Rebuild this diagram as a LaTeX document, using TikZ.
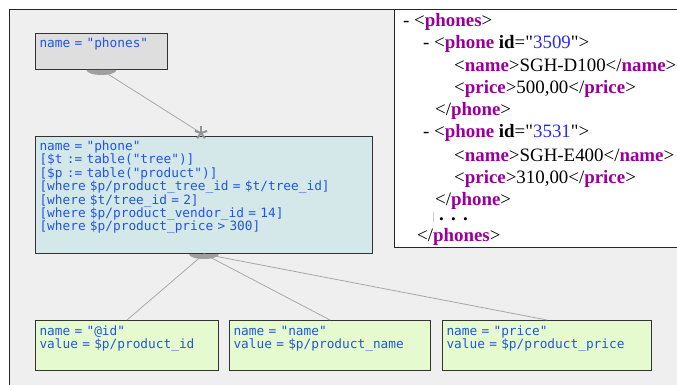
\documentclass[tikz,border=0pt]{standalone}
\usepackage{fontspec}
\setmainfont{Liberation Serif}[Ligatures=TeXOff]
\newfontfamily\boxfont{DejaVu Sans Mono}[Ligatures=TeXOff]
\definecolor{framebg}{HTML}{EFEFEF}
\definecolor{rootfill}{HTML}{DEDEDE}
\definecolor{phonefill}{HTML}{D4E8EA}
\definecolor{leaffill}{HTML}{E6FAD0}
\definecolor{codeblue}{HTML}{2255DD}
\definecolor{xmltag}{HTML}{990099}
\definecolor{xmlval}{HTML}{2B2BF0}
\definecolor{edgegray}{HTML}{A8A8A8}
\newcommand{\xtag}[1]{\textcolor{xmltag}{\textbf{#1}}}
\newcommand{\xval}[1]{\textcolor{xmlval}{#1}}
\newcommand{\codefont}{\boxfont\fontsize{12.8}{13.4}\selectfont}
\begin{document}
\begin{tikzpicture}[x=1pt,y=-1pt,
    box/.style={draw=black!80,line width=1pt,anchor=north west,inner xsep=4pt,
      inner ysep=0pt,align=left,text=codeblue,font=\codefont},
    edge/.style={draw=edgegray,line width=0.8pt},
    port/.style={fill=gray!75},
    xml/.style={anchor=base west,inner sep=0pt,font=\fontsize{18.9}{22}\selectfont}]
  \useasboundingbox (0,0) rectangle (677,385);
  \clip (0,0) rectangle (677,385);
  \draw[fill=framebg,draw=black!85] (9,9) rectangle (700,400);
  \draw[fill=white,draw=black!85] (394,9) rectangle (700,247);
  % mapping tree
  \node[box,fill=rootfill,text width=124pt,text height=14pt,text depth=22pt]
    (phones) at (35,33) {name = "phones"};
  \node[box,fill=phonefill,text width=329pt,text height=14pt,text depth=103pt]
    (phone) at (35,136) {name = "phone"\\
      {[}\$t := table("tree")]\\
      {[}\$p := table("product")]\\
      {[}where \$p/product\_tree\_id = \$t/tree\_id]\\
      {[}where \$t/tree\_id = 2]\\
      {[}where \$p/product\_vendor\_id = 14]\\
      {[}where \$p/product\_price > 300]};
  \node[box,fill=leaffill,text width=175pt,text height=15pt,text depth=35pt]
    (idleaf) at (35,320) {name = "@id"\\value = \$p/product\_id};
  \node[box,fill=leaffill,text width=193pt,text height=15pt,text depth=35pt]
    (nameleaf) at (229,320) {name = "name"\\value = \$p/product\_name};
  \node[box,fill=leaffill,text width=201pt,text height=15pt,text depth=35pt]
    (priceleaf) at (442,320) {name = "price"\\value = \$p/product\_price};
  \coordinate (phstar) at (201,133);
  \draw[edge] (phones.south) -- (phstar);
  \foreach \leaf in {idleaf,nameleaf,priceleaf}
    \draw[edge] (phone.south) -- (\leaf.north);
  \foreach \n in {phones,phone}
    \fill[port] (\n.south) ++(-15pt,0) arc[start angle=180,end angle=360,
      x radius=15pt,y radius=5pt] -- cycle;
  \foreach \a in {18,90,162,234,306}
    \draw[gray!85,line width=2pt] (phstar) -- ++(\a:6.5pt);
  % xml result
  \node[xml] (x1) at (403,27) {- <\xtag{phones}>};
  \node[xml] (x2) at (423,49) {- <\xtag{phone} \textbf{id}="\xval{3509}">};
  \node[xml] (x3) at (454,72) {<\xtag{name}>SGH-D100</\xtag{name}>};
  \node[xml] (x4) at (454,94) {<\xtag{price}>500,00</\xtag{price}>};
  \node[xml] (x5) at (435,116) {</\xtag{phone}>};
  \node[xml] (x6) at (423,138) {- <\xtag{phone} \textbf{id}="\xval{3531}">};
  \node[xml] (x7) at (454,161) {<\xtag{name}>SGH-E400</\xtag{name}>};
  \node[xml] (x8) at (454,183) {<\xtag{price}>310,00</\xtag{price}>};
  \node[xml] (x9) at (435,205) {</\xtag{phone}>};
  \draw[gray!40,line width=1pt] (433,212) -- (433,222);
  \node[xml] (x10) at (439,220) {\textbf{.\hspace{7.3pt}.\hspace{7.3pt}.}};
  \node[xml] (x11) at (417,241) {</\xtag{phones}>};
\end{tikzpicture}
\end{document}
